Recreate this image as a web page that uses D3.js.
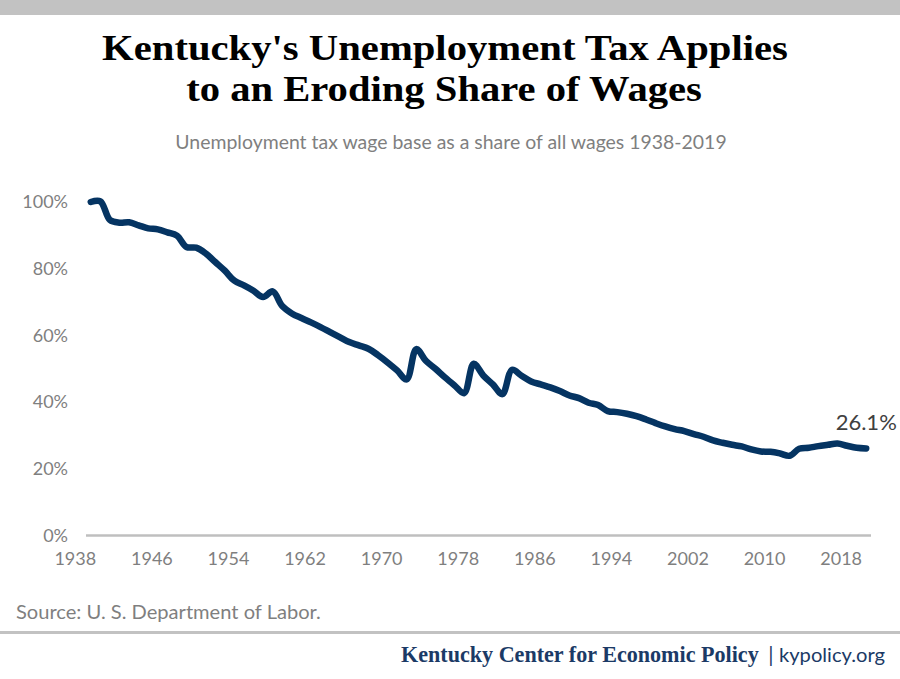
<!DOCTYPE html>
<html>
<head>
<meta charset="utf-8">
<script src="https://cdn.jsdelivr.net/npm/d3@7"></script>
<style>
  html, body { margin: 0; padding: 0; background: #fff; }
  svg { display: block; }
</style>
</head>
<body>
<svg id="chart" width="900" height="679"></svg>
<script>
// ---- Data ----
const years = [1938,1939,1940,1941,1942,1943,1944,1945,1946,1947,1948,1949,1950,1951,1952,1953,1954,1955,1956,1957,
  1958,1959,1960,1961,1962,1963,1964,1965,1966,1967,1968,1969,1970,1971,1972,1973,1974,1975,1976,1977,
  1978,1979,1980,1981,1982,1983,1984,1985,1986,1987,1988,1989,1990,1991,1992,1993,1994,1995,1996,1997,
  1998,1999,2000,2001,2002,2003,2004,2005,2006,2007,2008,2009,2010,2011,2012,2013,2014,2015,2016,2017,
  2018,2019];
const shares = [100.0,100.2,94.6,93.8,93.9,93.0,92.1,91.8,90.9,89.9,86.5,86.3,84.6,82.0,79.4,76.4,75.0,73.4,71.5,73.2,
  68.8,66.6,65.2,63.9,62.5,61.0,59.5,58.0,57.0,56.0,54.1,51.9,49.5,46.8,55.9,52.4,50.0,47.4,45.0,42.7,
  51.5,48.0,45.3,42.4,49.7,47.9,46.2,45.3,44.4,43.3,42.0,41.2,39.8,39.1,37.3,37.0,36.5,35.8,34.8,33.7,
  32.7,31.9,31.3,30.4,29.6,28.5,27.8,27.2,26.7,25.8,25.2,25.1,24.6,23.9,26.0,26.3,26.8,27.2,27.6,26.9,
  26.3,26.1];
const xTickLabels = [1938,1946,1954,1962,1970,1978,1986,1994,2002,2010,2018];
const yTickValues = [0,20,40,60,80,100];
const titleLines = ["Kentucky's Unemployment Tax Applies", "to an Eroding Share of Wages"];
const subtitle = "Unemployment tax wage base as a share of all wages 1938-2019";
const sourceText = "Source: U. S. Department of Labor.";
const endLabel = "26.1%";

// ---- Layout ----
const svg = d3.select("#chart");
const plot = { left: 86, right: 871, top: 202, bottom: 535.5 };
const grayText = "#7f7f7f";
const navy = "#053462";
const footNavy = "#1b3a66";

// top band
svg.append("rect").attr("x", 0).attr("y", 0).attr("width", 900).attr("height", 15).attr("fill", "#c2c2c2");
// bottom rule
svg.append("rect").attr("x", 0).attr("y", 631).attr("width", 900).attr("height", 3).attr("fill", "#c2c2c2");

function fitText(sel, target) {
  const fs = parseFloat(sel.attr("font-size"));
  const w = sel.node().getComputedTextLength();
  sel.attr("font-size", (fs * target / w).toFixed(2));
}
// horizontally scale a text (placed in its own group) to a target width
function stretchText(g, sel, target) {
  const w = sel.node().getComputedTextLength();
  const tr = g.attr("transform") || "";
  g.attr("transform", tr + " scale(" + (target / w).toFixed(4) + ",1)");
}

// Title
const g1 = svg.append("g").attr("transform", "translate(445,60)");
const t1 = g1.append("text").attr("text-anchor", "middle")
  .attr("font-family", "Liberation Serif").attr("font-weight", "bold").attr("font-size", 35)
  .attr("fill", "#000").text(titleLines[0]);
stretchText(g1, t1, 686);
const g2 = svg.append("g").attr("transform", "translate(444,101)");
const t2 = g2.append("text").attr("text-anchor", "middle")
  .attr("font-family", "Liberation Serif").attr("font-weight", "bold").attr("font-size", 35)
  .attr("fill", "#000").text(titleLines[1]);
stretchText(g2, t2, 516);

// Subtitle
const st = svg.append("text").attr("x", 451).attr("y", 149).attr("text-anchor", "middle")
  .attr("font-family", "Lato").attr("font-size", 17).attr("fill", grayText).text(subtitle);
fitText(st, 552);

// Scales
const x = d3.scalePoint().domain(years).range([plot.left, plot.right]).padding(0.5);
const y = d3.scaleLinear().domain([0, 100]).range([plot.bottom, plot.top]);

// zero line
svg.append("line").attr("x1", plot.left).attr("x2", plot.right)
  .attr("y1", y(0)).attr("y2", y(0)).attr("stroke", "#bfbfbf").attr("stroke-width", 2.5);

// Y axis labels
const yAxis = d3.axisLeft(y).tickValues(yTickValues).tickFormat(d => d + "%").tickSize(0).tickPadding(0);
const gy = svg.append("g").attr("transform", "translate(68,0)").call(yAxis);
gy.select(".domain").remove();
gy.selectAll("text").attr("font-family", "Lato").attr("font-size", 18).attr("fill", grayText);

// X axis labels
const xAxis = d3.axisBottom(x).tickValues(xTickLabels).tickSize(0).tickPadding(0);
const gx = svg.append("g").attr("transform", "translate(-16,552)").call(xAxis);
gx.select(".domain").remove();
gx.selectAll("text").attr("font-family", "Lato").attr("font-size", 18).attr("fill", grayText);

// Line
const data = years.map((yr, i) => ({ year: yr, value: shares[i] }));
const line = d3.line().x(d => x(d.year)).y(d => y(d.value)).curve(d3.curveCatmullRom.alpha(0.5));
svg.append("path").datum(data).attr("d", line).attr("fill", "none")
  .attr("stroke", navy).attr("stroke-width", 6.5).attr("stroke-linecap", "round").attr("stroke-linejoin", "round");

// End label
const last = data[data.length - 1];
svg.append("text").attr("x", x(last.year)).attr("y", y(last.value) - 18).attr("text-anchor", "middle")
  .attr("font-family", "Lato").attr("font-size", 22).attr("fill", "#404040").text(endLabel);

// Source
const src = svg.append("text").attr("x", 16).attr("y", 619)
  .attr("font-family", "Lato").attr("font-size", 18).attr("fill", grayText).text(sourceText);
fitText(src, 305);

// Footer
const gf = svg.append("g").attr("transform", "translate(401,662)");
const f1 = gf.append("text")
  .attr("font-family", "Liberation Serif").attr("font-weight", "bold").attr("font-size", 23)
  .attr("fill", footNavy).text("Kentucky Center for Economic Policy");
stretchText(gf, f1, 358);
svg.append("text").attr("x", 771).attr("y", 662).attr("text-anchor", "middle")
  .attr("font-family", "Lato").attr("font-size", 21).attr("fill", footNavy).text("|");
const kp = svg.append("text").attr("x", 779).attr("y", 662)
  .attr("font-family", "Lato").attr("font-size", 19).attr("fill", footNavy).text("kypolicy.org");
fitText(kp, 106);
</script>
</body>
</html>
